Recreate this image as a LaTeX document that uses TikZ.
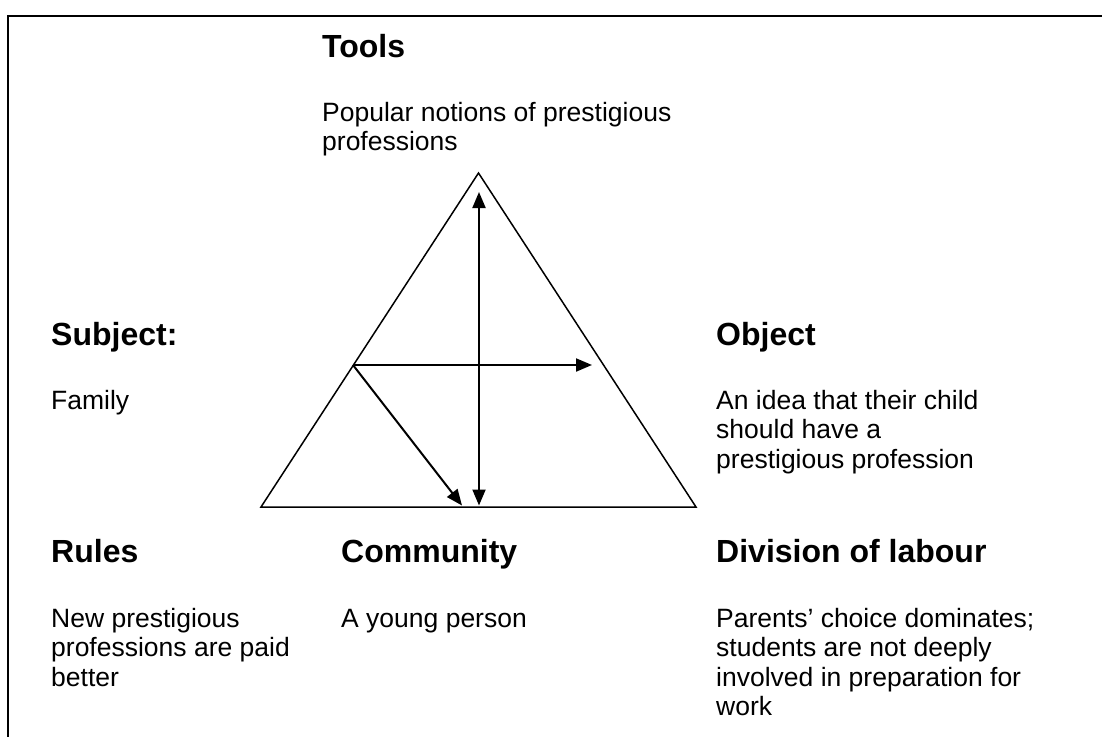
\documentclass[tikz,border=0pt]{standalone}
\usepackage{fontspec}
\setmainfont{Liberation Sans}
\usetikzlibrary{arrows.meta}
\tikzset{
  head/.style={anchor=north west, inner sep=0pt, align=left, font=\fontsize{32}{38}\selectfont\bfseries},
  body/.style={anchor=north west, inner sep=0pt, align=left, font=\fontsize{26.5}{29.5}\selectfont},
  tri/.style={line width=1.5pt, line join=miter},
  arr/.style={line width=2pt, -{Triangle[length=16pt,width=13pt]}},
  darr/.style={line width=2pt, {Triangle[length=16pt,width=13pt]}-{Triangle[length=16pt,width=13pt]}},
  frame/.style={line width=2pt}
}
\newcommand{\hs}{\rule{0pt}{25pt}}
\newcommand{\bs}{\rule{0pt}{21pt}}
\begin{document}
\begin{tikzpicture}[x=1pt,y=-1pt]
\useasboundingbox (0,0) rectangle (1102,736);
% frame (only top and left visible)
\coordinate (fb) at (8,745);
\coordinate (fc) at (8,15.5);
\coordinate (fr) at (1110,15.5);
\draw[frame] (fb) -- (fc) -- (fr);
% triangle
\coordinate (apex) at (478.5,173);
\coordinate (bl) at (261,507);
\coordinate (br) at (696,507);
\draw[tri] (apex) -- (br) -- (bl) -- cycle;
% arrows
\coordinate (vt) at (479,192);
\coordinate (vb) at (479,505.5);
\coordinate (hs) at (353,365);
\coordinate (he) at (592,365);
\coordinate (de) at (462,505.5);
\draw[darr] (vb) -- (vt);
\draw[arr] (hs) -- (he);
\draw[arr] (hs) -- (de);
% texts
\node[head] (tools) at (322,57-25) {\hs Tools};
\node[body] (toolsb) at (322,121-21) {\bs Popular notions of prestigious\\professions};
\node[head] (subj) at (51,345-25) {\hs Subject:};
\node[body] (subjb) at (51,409-21) {\bs Family};
\node[head] (obj) at (716,345-25) {\hs Object};
\node[body] (objb) at (716,409-21) {\bs An idea that their child\\should have a\\prestigious profession};
\node[head] (rules) at (51,562-25) {\hs Rules};
\node[body] (rulesb) at (51,627-21) {\bs New prestigious\\professions are paid\\better};
\node[head] (comm) at (341,562-25) {\hs Community};
\node[body] (commb) at (341,627-21) {\bs A young person};
\node[head] (div) at (716,562-25) {\hs Division of labour};
\node[body] (divb) at (716,627-21) {\bs Parents’ choice dominates;\\students are not deeply\\involved in preparation for\\work};
\end{tikzpicture}
\end{document}
